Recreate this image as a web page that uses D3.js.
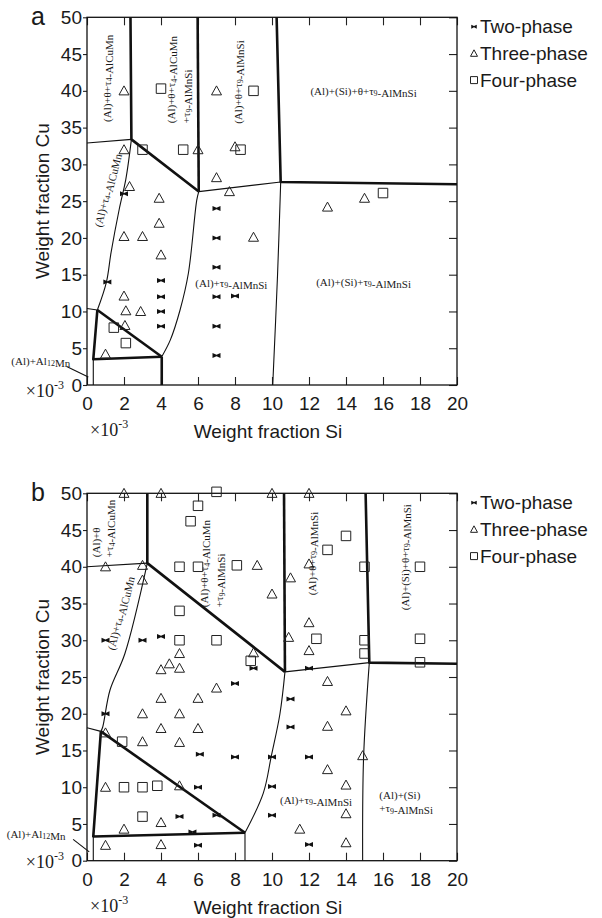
<!DOCTYPE html>
<html>
<head>
<meta charset="utf-8">
<script src="https://cdn.jsdelivr.net/npm/d3@7"></script>
<style>
    body { margin: 0; background: #fff; }
    svg text { fill: #1a1a1a; }
</style>
</head>
<body>
<svg id="chart" width="602" height="918"></svg>
<script>
// ---- data, both axes in weight fraction x 10^-3 ----
const xTicks = [0, 2, 4, 6, 8, 10, 12, 14, 16, 18, 20];
const yTicks = [0, 5, 10, 15, 20, 25, 30, 35, 40, 45, 50];
const legendLabels = ['Two-phase', 'Three-phase', 'Four-phase'];

// panel a: measured alloys
const twoPhaseA = [[2, 26], [1.1, 14], [4, 14.2], [4, 12], [4, 10], [4, 8], [7, 24], [7, 20], [7, 16],
    [7, 12], [8, 12.1], [7, 8], [7, 4]];
const threePhaseA = [[2, 40], [7, 40], [2, 32], [6, 32], [8, 32.4], [2.3, 27], [7, 28.2], [7.7, 26.3],
    [3.9, 25.4], [13, 24.2], [15, 25.4], [2, 20.2], [3, 20.2], [3.9, 22], [4, 17.7], [2, 12.1],
    [2.1, 10.1], [2.9, 10], [2.05, 8.1], [1, 4.2], [9, 20.1]];
const fourPhaseA = [[4, 40.3], [9, 40], [3, 32], [5.2, 32], [8.3, 32], [16, 26.1], [1.45, 7.8], [2.1, 5.7]];

// panel a: phase boundaries
const thickA = [
    [[2.35, 50], [2.4, 33.4], [6.04, 26.3]],
    [[5.98, 50], [6.04, 26.3]],
    [[10.25, 50], [10.47, 27.6], [20, 27.3]],
    [[0.56, 10.2], [4.04, 3.85]],
    [[0.56, 10.2], [0.34, 3.5], [4.04, 3.85]],
    [[4.04, 3.85], [4.04, 0]]
];
const thinA = [
    [[0, 32.9], [2.4, 33.4]],
    [[6.04, 26.3], [10.47, 27.6]],
    [[10.47, 27.6], [10.3, 15], [10.04, 0]],
    [[2.4, 33.4], [2.1, 28], [1.75, 24], [1.3, 18], [1.05, 14], [0.56, 10.2]],
    [[0, 10.4], [0.56, 10.2]],
    [[0.34, 3.5], [0.34, 0]],
    [[4.04, 3.85], [4.5, 6.1], [5.03, 10.2], [5.48, 15.2], [5.93, 25.1], [6.04, 26.3]],
    [[-1.1, 2.5], [0.07, 1.1]]
];

// panel b: measured alloys
const twoPhaseB = [[1, 30], [3, 30], [4, 30.5], [9, 26.2], [12, 26.2], [8, 24.1], [11, 22], [1, 20],
    [11, 18.2], [6.1, 14.5], [8, 14.1], [10, 14.1], [12, 14.1], [6, 10], [10, 10.1], [5, 6], [7, 6.2],
    [10, 6.2], [5.7, 3.9], [6, 2.1], [12, 2.2]];
const threePhaseB = [[2, 50], [4, 50], [10, 50], [12, 50], [1, 40], [3, 40.2], [3, 38.2], [9.2, 40.2],
    [12, 40.4], [11, 38.5], [10, 36.3], [12, 32.4], [10.9, 30.4], [12, 28.6], [5, 28.2], [9, 28.3],
    [4, 26], [4.45, 26.8], [5, 26.2], [7, 23.5], [13, 24.4], [4, 22.1], [6, 22.1], [3, 20], [5, 20],
    [14, 20.4], [4, 18], [6, 18], [13, 18.3], [1, 17.4], [3, 16.2], [5, 16.1], [14.9, 14.3], [13, 12.4],
    [1, 10], [5, 10.2], [14, 10.3], [4, 5.2], [14, 6.4], [2, 4.3], [11.5, 4.3], [1, 2.1], [4, 2.2], [14, 2.45]];
const fourPhaseB = [[7, 50.2], [6, 48.3], [5.6, 46.2], [14, 44.2], [13, 42.3], [5, 40], [6, 40], [8.1, 40.2],
    [15, 40], [18, 40], [5, 34], [5, 30], [7, 30], [12.4, 30.2], [15, 30], [18, 30.2], [15, 28.2],
    [8.85, 27.2], [18, 27], [1.9, 16.2], [2, 10], [3, 10], [3.8, 10.2], [3, 6]];

// panel b: phase boundaries
const thickB = [
    [[3.26, 50], [3.26, 40.5], [10.7, 25.7]],
    [[10.65, 50], [10.7, 25.7]],
    [[15.06, 50], [15.26, 26.96], [20, 26.8]],
    [[0.75, 17.6], [8.54, 3.8]],
    [[0.75, 17.6], [0.34, 3.3], [8.54, 3.8]]
];
const thinB = [
    [[0, 40], [3.26, 40.5]],
    [[10.7, 25.7], [15.26, 26.96]],
    [[15.26, 26.96], [14.95, 14], [14.9, 0]],
    [[10.7, 25.7], [10.43, 20], [9.96, 14.2], [9.53, 9.2], [8.54, 3.8]],
    [[3.26, 40.5], [2.05, 28.2], [1.24, 23.2], [0.85, 18.2], [0.75, 17.6]],
    [[0, 18.1], [0.75, 17.6]],
    [[0.34, 3.3], [0.34, 0]],
    [[8.54, 3.8], [8.54, 0]],
    [[-0.75, 2.9], [0.12, 1.2]]
];

// region names ("_n" = subscript)
const regionsA = ['(Al)+θ+τ_4-AlCuMn', '(Al)+θ+τ_4-AlCuMn|+τ_9-AlMnSi', '(Al)+θ+τ_9-AlMnSi',
    '(Al)+(Si)+θ+τ_9-AlMnSi', '(Al)+τ_4-AlCuMn', '(Al)+τ_9-AlMnSi', '(Al)+(Si)+τ_9-AlMnSi', '(Al)+Al_12Mn'];
const regionsB = ['(Al)+θ|+τ_4-AlCuMn', '(Al)+τ_4-AlCuMn', '(Al)+θ+τ_4-AlCuMn|+τ_9-AlMnSi',
    '(Al)+θ+τ_9-AlMnSi', '(Al)+(Si)+θ+τ_9-AlMnSi', '(Al)+τ_9-AlMnSi', '(Al)+(Si)|+τ_9-AlMnSi', '(Al)+Al_12Mn'];

// ---- layout ----
const svg = d3.select('#chart');
const SANS = '"Liberation Sans", Arial, Helvetica, sans-serif';
const SERIF = '"Liberation Serif", "Times New Roman", serif';
const x = d3.scaleLinear().domain([0, 20]).range([87, 457]);

// label placement in data units: [x, y, rotation, anchor]
const placeA = [[1.1, 41.7, -90, 'middle'], [4.76, 35.6, -90, 'start'], [8.15, 41.2, -90, 'middle'],
    [14.95, 40, 0, 'middle'], [1.08, 26.5, -76, 'middle'], [7.8, 13.9, 0, 'middle'],
    [14.95, 14, 0, 'middle'], [-2.5, 3.2, 0, 'middle']];
const placeB = [[0.7, 41.3, -90, 'start'], [1.78, 33.7, -76, 'middle'], [6.56, 34.5, -90, 'start'],
    [12.15, 41.8, -90, 'middle'], [17.2, 41.3, -90, 'middle'], [12.38, 8.2, 0, 'middle'],
    [15.8, 8.4, 0, 'start'], [-2.75, 3.6, 0, 'middle']];

const panels = [
    { name: 'a', top: 17.3, bottom: 385, two: twoPhaseA, three: threePhaseA, four: fourPhaseA,
      thick: thickA, thin: thinA, regions: regionsA, place: placeA, mult: 10 },
    { name: 'b', top: 493.3, bottom: 860.7, two: twoPhaseB, three: threePhaseB, four: fourPhaseB,
      thick: thickB, thin: thinB, regions: regionsB, place: placeB, mult: 5 }
];

const bowtie = (w, h) => `M${-w/2},${-h/2}L${-w/2},${h/2}L0,${h*0.15}L${w/2},${h/2}L${w/2},${-h/2}L0,${-h*0.15}Z`;
const triangle = (w, h) => `M0,${-h*0.55}L${w/2},${h*0.45}L${-w/2},${h*0.45}Z`;
const square = s => `M${-s/2},${-s/2}h${s}v${s}h${-s}Z`;

// writes "text_9" strings as tspans with subscripts
function richText(sel, str) {
    str.split(/(_\d+)/).filter(s => s.length).forEach(part => {
        if (part[0] === '_') {
            sel.append('tspan').attr('font-size', 8).attr('dy', 2).text(part.slice(1));
            sel.append('tspan').attr('dy', -2).text('');
        } else {
            sel.append('tspan').text(part);
        }
    });
}

function drawPanel(p) {
    const y = d3.scaleLinear().domain([0, 50]).range([p.bottom, p.top]);
    const g = svg.append('g');

    // axes
    const bottomAxis = g.append('g').attr('transform', `translate(0,${p.bottom})`)
        .call(d3.axisBottom(x).tickValues(xTicks).tickSize(-8).tickPadding(12).tickFormat(d3.format('d')));
    const leftAxis = g.append('g').attr('transform', `translate(${x(0)},0)`)
        .call(d3.axisLeft(y).tickValues(yTicks).tickSize(4).tickPadding(1).tickFormat(d3.format('d')));
    g.append('g').attr('transform', `translate(0,${p.top})`)
        .call(d3.axisTop(x).tickValues(xTicks).tickSize(-8).tickFormat(''));
    g.append('g').attr('transform', `translate(${x(20)},0)`)
        .call(d3.axisRight(y).tickValues(yTicks).tickSize(-8).tickFormat(''));
    g.selectAll('.domain').remove();
    g.selectAll('.tick line').attr('stroke', '#222').attr('stroke-width', 1.1);
    [bottomAxis, leftAxis].forEach(a => a.selectAll('text')
        .attr('font-family', SANS).attr('font-size', 19).attr('fill', '#1a1a1a'));

    g.append('rect').attr('x', x(0)).attr('y', p.top)
        .attr('width', x(20) - x(0)).attr('height', p.bottom - p.top)
        .attr('fill', 'none').attr('stroke', '#111').attr('stroke-width', 1.3);

    // phase boundaries
    const line = d3.line().x(d => x(d[0])).y(d => y(d[1])).curve(d3.curveCatmullRom.alpha(0.5));
    g.selectAll('.thin').data(p.thin).join('path')
        .attr('d', line).attr('fill', 'none').attr('stroke', '#111').attr('stroke-width', 1.1);
    g.selectAll('.thick').data(p.thick).join('path')
        .attr('d', d3.line().x(d => x(d[0])).y(d => y(d[1])))
        .attr('fill', 'none').attr('stroke', '#111').attr('stroke-width', 2.6).attr('stroke-linejoin', 'round');

    // region names
    p.regions.forEach((name, i) => {
        const [lx, ly, rot, anchor] = p.place[i];
        const t = g.append('text')
            .attr('transform', `translate(${x(lx)},${y(ly)}) rotate(${rot})`)
            .attr('text-anchor', anchor).attr('dominant-baseline', anchor === 'middle' ? 'central' : 'auto')
            .attr('font-family', SERIF).attr('font-size', 11);
        name.split('|').forEach((ln, j) => {
            const sub = t.append('tspan').attr('x', 0).attr('dy', j === 0 ? 0 : 13);
            richText(sub, ln);
        });
    });

    // measured alloys
    g.selectAll('.two').data(p.two).join('path')
        .attr('transform', d => `translate(${x(d[0])},${y(d[1])})`)
        .attr('d', bowtie(8, 5)).attr('fill', '#111');
    g.selectAll('.three').data(p.three).join('path')
        .attr('transform', d => `translate(${x(d[0])},${y(d[1])})`)
        .attr('d', triangle(10, 9)).attr('fill', 'none').attr('stroke', '#222').attr('stroke-width', 1);
    g.selectAll('.four').data(p.four).join('path')
        .attr('transform', d => `translate(${x(d[0])},${y(d[1])})`)
        .attr('d', square(9.5)).attr('fill', 'none').attr('stroke', '#222').attr('stroke-width', 1);

    // titles
    g.append('text').attr('x', 38).attr('y', p.top + 8).attr('text-anchor', 'middle')
        .attr('font-family', SANS).attr('font-size', 25).text(p.name);
    g.append('text').attr('transform', `translate(42,${(p.top + p.bottom) / 2}) rotate(-90)`)
        .attr('text-anchor', 'middle').attr('dominant-baseline', 'central')
        .attr('font-family', SANS).attr('font-size', 19).text('Weight fraction Cu');
    g.append('text').attr('x', (x(0) + x(20)) / 2 - 4).attr('y', p.bottom + 53)
        .attr('text-anchor', 'middle').attr('font-family', SANS).attr('font-size', 19).text('Weight fraction Si');

    // x10^-3 multipliers
    const mult = (tx, ty, anchor) => {
        const t = g.append('text').attr('x', tx).attr('y', ty).attr('text-anchor', anchor)
            .attr('font-family', SERIF).attr('font-size', 18);
        t.append('tspan').text('×10');
        t.append('tspan').attr('font-size', 12).attr('dy', -8).text('-3');
    };
    mult(64, p.bottom + p.mult + 2, 'end');
    mult(90, p.bottom + 51, 'start');

    // legend
    const leg = g.append('g').attr('transform', `translate(474,${p.top})`);
    const shapes = [bowtie(5.5, 4), triangle(7, 6.5), square(7)];
    legendLabels.forEach((lab, i) => {
        const row = leg.append('g').attr('transform', `translate(0,${9.4 + i * 26.7})`);
        row.append('path').attr('d', shapes[i])
            .attr('fill', i === 0 ? '#111' : 'none').attr('stroke', i === 0 ? 'none' : '#222');
        row.append('text').attr('x', 6).attr('dominant-baseline', 'central')
            .attr('font-family', SANS).attr('font-size', 19).text(lab);
    });
}

panels.forEach(drawPanel);
</script>
</body>
</html>
